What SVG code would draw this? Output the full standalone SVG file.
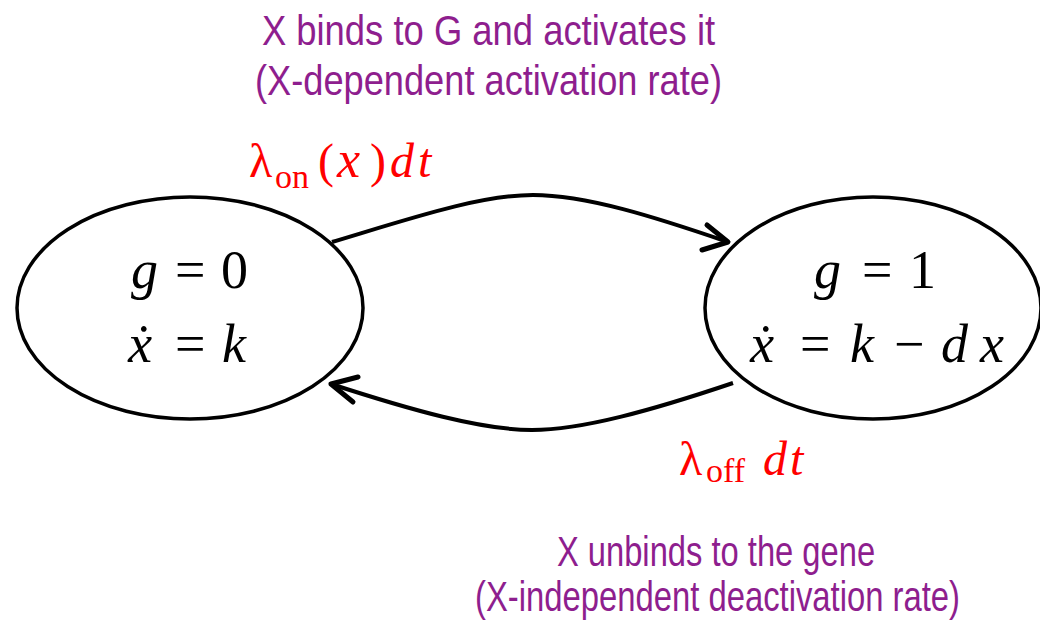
<svg xmlns="http://www.w3.org/2000/svg" width="1040" height="626" viewBox="0 0 1040 626">
<style>
.node{fill:none;stroke:#000;stroke-width:3.5}
.edge{fill:none;stroke:#000;stroke-width:4}
.head{fill:none;stroke:#000;stroke-width:5;stroke-linecap:round;stroke-linejoin:round}
.note{font-family:"Liberation Sans",Arial,sans-serif;font-size:42px;fill:#8e1e8e;text-anchor:middle}
.math{font-family:"Liberation Serif","DejaVu Serif",serif;font-size:54px;fill:#000}
.rate{font-family:"Liberation Serif","DejaVu Serif",serif;font-size:48px;fill:#ff0000}
.i{font-style:italic}
.sub{font-size:34px}
</style>
<rect width="1040" height="626" fill="#fff"/>
<g id="connectors">
<path class="edge" d="M332,242 C412,218 480,195 533,195 C586,195 655,217 728,242"/>
<path class="head" d="M707,225 L728,242 L702,250"/>
<path class="edge" d="M733,383 C653,410 582,430 532,430 C482,430 411,410 331,384"/>
<path class="head" d="M358,377 L331,384 L353,402"/>
</g>
<g id="node-g0">
<ellipse class="node" cx="190" cy="308" rx="173" ry="111"/>
<text class="math" y="288"><tspan class="i" x="131">g</tspan><tspan x="175">=</tspan><tspan x="221">0</tspan></text>
<text class="math" y="362"><tspan class="i" x="128">ẋ</tspan><tspan x="175">=</tspan><tspan class="i" x="222">k</tspan></text>
</g>
<g id="node-g1">
<ellipse class="node" cx="873" cy="308" rx="168" ry="111"/>
<text class="math" y="288"><tspan class="i" x="814">g</tspan><tspan x="862">=</tspan><tspan x="909">1</tspan></text>
<text class="math" y="362"><tspan class="i" x="750">ẋ</tspan><tspan x="800">=</tspan><tspan class="i" x="850">k</tspan><tspan x="894">−</tspan><tspan class="i" x="941">d</tspan><tspan class="i" x="980">x</tspan></text>
</g>
<g id="label-on">
<text class="rate" y="177"><tspan x="249">λ</tspan><tspan class="sub" x="275" dy="11">on</tspan><tspan x="318" dy="-11">(</tspan><tspan class="i" x="337" font-size="52">x</tspan><tspan x="370">)</tspan><tspan class="i" x="390">d</tspan><tspan class="i" x="418">t</tspan></text>
<text class="note" transform="translate(488.5,45) scale(0.86,1)" textLength="527" lengthAdjust="spacingAndGlyphs">X binds to G and activates it</text>
<text class="note" transform="translate(488.5,95) scale(0.86,1)" textLength="543" lengthAdjust="spacingAndGlyphs">(X-dependent activation rate)</text>
</g>
<g id="label-off">
<text class="rate" y="475"><tspan x="679">λ</tspan><tspan class="sub" x="706" dy="7">off</tspan><tspan class="i" x="763" dy="-7">d</tspan><tspan class="i" x="790">t</tspan></text>
<text class="note" transform="translate(716,566) scale(0.86,1)" textLength="370" lengthAdjust="spacingAndGlyphs">X unbinds to the gene</text>
<text class="note" transform="translate(717.5,611) scale(0.86,1)" textLength="564" lengthAdjust="spacingAndGlyphs">(X-independent deactivation rate)</text>
</g>
</svg>
